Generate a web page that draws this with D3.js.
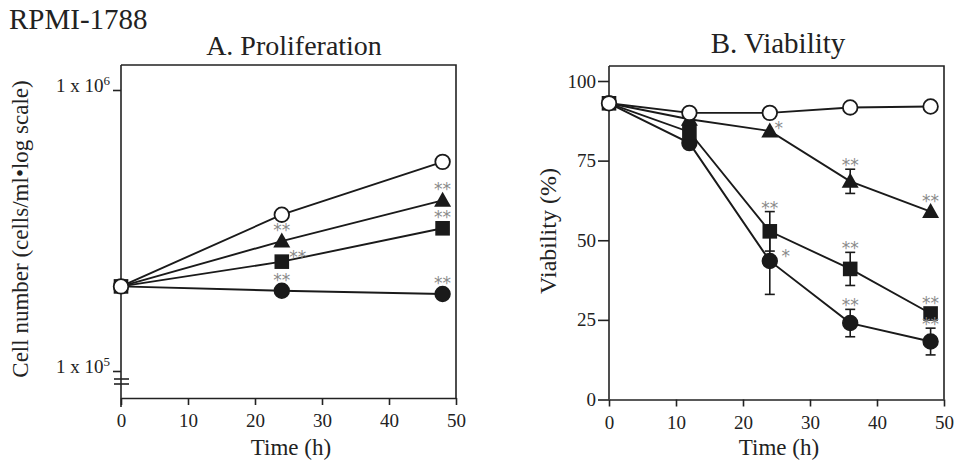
<!DOCTYPE html>
<html lang="en">
<head>
<meta charset="UTF-8">
<title>RPMI-1788</title>
<script src="https://d3js.org/d3.v7.min.js"></script>
<style>
  body { margin: 0; background: #fff; }
  svg text { font-family: "Liberation Serif", "Times New Roman", serif; fill: #222; }
  .axis path, .axis line { stroke: #222; stroke-width: 1.6px; }
  .axis text { font-family: "Liberation Serif", serif; font-size: 19px; fill: #222; }
  .frame { stroke: #222; stroke-width: 1.6px; fill: none; }
  .series { fill: none; stroke: #1a1a1a; stroke-width: 1.9px; }
  .err { stroke: #1a1a1a; stroke-width: 1.6px; }
  svg text.sig { font-family: "DejaVu Sans", sans-serif; fill: #8a8a8a; font-size: 17px; text-anchor: middle; }
</style>
</head>
<body>
<div id="container"></div>
<script>
// DATA
// panel A: proliferation (cells/ml, log scale)
const timesA = [0, 24, 48];
const controlA = [2.0e5, 3.6e5, 5.55e5];
const triangleA = [2.0e5, 2.9e5, 4.05e5];
const squareA = [2.0e5, 2.45e5, 3.22e5];
const circleA = [2.0e5, 1.93e5, 1.88e5];
const sigA = {
  triangle: ["", "**", "**"],
  square: ["", "**", "**"],
  circle: ["", "**", "**"]
};
const sigSideA = {
  triangle: ["", "above", "above"],
  square: ["", "right", "above"],
  circle: ["", "above", "above"]
};
const yTicksA = [1e5, 1e6];
const yExpA = ["5", "6"];

// panel B: viability (%)
const timesB = [0, 12, 24, 36, 48];
const controlB = [93, 90, 90, 91.7, 92];
const triangleB = [93, 88, 84.3, 68.5, 59];
const squareB = [93, 84, 52.8, 41, 27];
const circleB = [93, 80.5, 43.5, 24, 18.2];
const triangleErrB = [0, 0, 0, 3.8, 0];
const squareErrB = [0, 0, 6.2, 5.2, 1.5];
const circleErrB = [0, 0, 10.5, 4.3, 4.2];
const sigB = {
  triangle: ["", "", "*", "**", "**"],
  square: ["", "", "**", "**", "**"],
  circle: ["", "", "*", "**", "**"]
};
const sigSideB = {
  triangle: ["", "", "rightsmall", "above", "above"],
  square: ["", "", "above", "above", "above"],
  circle: ["", "", "right", "above", "above"]
};
const yTicksB = [0, 25, 50, 75, 100];
const xTicks = [0, 10, 20, 30, 40, 50];

// SVG
const svg = d3.select("#container").append("svg")
  .attr("width", 957).attr("height", 462);

svg.append("text").attr("x", 9).attr("y", 29)
  .style("font-size", "29px").text("RPMI-1788");

// marker drawing
function marker(g, kind, x, y) {
  if (kind === "circle" || kind === "control") {
    g.append("circle").attr("cx", x).attr("cy", y).attr("r", 7.3)
      .attr("fill", kind === "control" ? "#fff" : "#1a1a1a")
      .attr("stroke", "#1a1a1a").attr("stroke-width", 1.8);
  } else if (kind === "square") {
    g.append("rect").attr("x", x - 7.3).attr("y", y - 7.3)
      .attr("width", 14.6).attr("height", 14.6).attr("fill", "#1a1a1a");
  } else if (kind === "triangle") {
    g.append("path")
      .attr("d", "M" + x + "," + (y - 8.5) + "L" + (x + 8.5) + "," + (y + 6.5) + "L" + (x - 8.5) + "," + (y + 6.5) + "Z")
      .attr("fill", "#1a1a1a");
  }
}

// significance stars; ty is where the glyph centre should sit
function sigText(g, txt, side, x, y, top) {
  if (!txt) return;
  let tx = x, ty = top - 6;
  if (side === "right") { tx = x + 16; ty = y - 9; }
  if (side === "rightsmall") { tx = x + 9; ty = y - 7; }
  g.append("text").attr("class", "sig").attr("x", tx).attr("y", ty + 10).text(txt);
}

// ---------------- PANEL A ----------------
const xA = d3.scaleLinear().domain([0, 50]).range([121, 456]);
const yA = d3.scaleLog().domain([1e5, 1e6]).range([371, 90]);
const gA = svg.append("g");

gA.append("path").attr("class", "frame")
  .attr("d", "M121,65H456V398");
gA.append("line").attr("class", "frame").attr("x1", 121).attr("x2", 121).attr("y1", 65).attr("y2", 407);

gA.append("g").attr("class", "axis").attr("transform", "translate(0,398)")
  .call(d3.axisBottom(xA).tickValues(xTicks).tickSize(7).tickSizeOuter(0).tickPadding(4))
  .call(g => g.selectAll("text").attr("dy", "0.95em"));

gA.append("g").attr("class", "axis").attr("transform", "translate(121,0)")
  .call(d3.axisLeft(yA).tickValues(yTicksA).tickSize(8).tickFormat(() => ""))
  .call(g => g.select(".domain").remove())
  .call(g => g.selectAll(".tick text").each(function (d, i) {
    const t = d3.select(this).attr("x", -11).attr("dy", "0.1em").style("font-size", "19px");
    t.append("tspan").text("1 x 10");
    t.append("tspan").attr("dy", "-0.55em").style("font-size", "13px").text(yExpA[i]);
  }));

// axis break marks
[379, 384].forEach(y => {
  gA.append("line").attr("class", "frame").attr("x1", 114).attr("x2", 129).attr("y1", y).attr("y2", y);
});

gA.append("text").attr("x", 294).attr("y", 55).attr("text-anchor", "middle")
  .style("font-size", "28px").text("A. Proliferation");
gA.append("text").attr("x", 291).attr("y", 455).attr("text-anchor", "middle")
  .style("font-size", "23px").text("Time (h)");
gA.append("text").attr("transform", "translate(28,229) rotate(-90)").attr("text-anchor", "middle")
  .style("font-size", "23px").text("Cell number (cells/ml\u2022log scale)");

const lineA = d3.line().x((d, i) => xA(timesA[i])).y(d => yA(d));
const seriesA = [
  { kind: "circle", vals: circleA },
  { kind: "square", vals: squareA },
  { kind: "triangle", vals: triangleA },
  { kind: "control", vals: controlA }
];
seriesA.forEach(s => gA.append("path").attr("class", "series").attr("d", lineA(s.vals)));
seriesA.forEach(s => {
  s.vals.forEach((v, i) => {
    if (i === 0 && (s.kind === "triangle" || s.kind === "circle")) return;
    marker(gA, s.kind, xA(timesA[i]), yA(v));
  });
});
["triangle", "square", "circle"].forEach(k => {
  const vals = seriesA.find(s => s.kind === k).vals;
  vals.forEach((v, i) => {
    const y = yA(v);
    sigText(gA, sigA[k][i], sigSideA[k][i], xA(timesA[i]), y, y - 9);
  });
});

// ---------------- PANEL B ----------------
const xB = d3.scaleLinear().domain([0, 50]).range([609, 944]);
const yB = d3.scaleLinear().domain([0, 100]).range([399.5, 81]);
const gB = svg.append("g");

gB.append("path").attr("class", "frame").attr("d", "M609,66H944V399.5");
gB.append("line").attr("class", "frame").attr("x1", 609).attr("x2", 609).attr("y1", 66).attr("y2", 399.5);

gB.append("g").attr("class", "axis").attr("transform", "translate(0,399.5)")
  .call(d3.axisBottom(xB).tickValues(xTicks).tickSize(7).tickSizeOuter(0).tickPadding(4))
  .call(g => g.selectAll("text").attr("dy", "0.95em"));
gB.append("g").attr("class", "axis").attr("transform", "translate(609,0)")
  .call(d3.axisLeft(yB).tickValues(yTicksB).tickSize(11).tickPadding(2))
  .call(g => g.select(".domain").remove());

gB.append("text").attr("x", 778).attr("y", 53).attr("text-anchor", "middle")
  .style("font-size", "29px").text("B. Viability");
gB.append("text").attr("x", 779).attr("y", 455).attr("text-anchor", "middle")
  .style("font-size", "23px").text("Time (h)");
gB.append("text").attr("transform", "translate(556,231) rotate(-90)").attr("text-anchor", "middle")
  .style("font-size", "24px").text("Viability (%)");

const lineB = d3.line().x((d, i) => xB(timesB[i])).y(d => yB(d));
const seriesB = [
  { kind: "circle", vals: circleB, err: circleErrB },
  { kind: "square", vals: squareB, err: squareErrB },
  { kind: "triangle", vals: triangleB, err: triangleErrB },
  { kind: "control", vals: controlB, err: null }
];
seriesB.forEach(s => gB.append("path").attr("class", "series").attr("d", lineB(s.vals)));
// error bars
seriesB.forEach(s => {
  if (!s.err) return;
  s.vals.forEach((v, i) => {
    const e = s.err[i];
    if (!e) return;
    const x = xB(timesB[i]);
    const y0 = yB(v - e), y1 = yB(v + e);
    gB.append("line").attr("class", "err").attr("x1", x).attr("x2", x).attr("y1", y0).attr("y2", y1);
    [y0, y1].forEach(y => gB.append("line").attr("class", "err")
      .attr("x1", x - 5).attr("x2", x + 5).attr("y1", y).attr("y2", y));
  });
});
seriesB.forEach(s => {
  s.vals.forEach((v, i) => {
    if (i === 0 && (s.kind === "triangle" || s.kind === "circle")) return;
    marker(gB, s.kind, xB(timesB[i]), yB(v));
  });
});
seriesB.forEach(s => {
  if (!s.err) return;
  s.vals.forEach((v, i) => {
    const y = yB(v);
    const top = Math.min(y - 9, yB(v + s.err[i]) - 2);
    sigText(gB, sigB[s.kind][i], sigSideB[s.kind][i], xB(timesB[i]), y, top);
  });
});
</script>
</body>
</html>
